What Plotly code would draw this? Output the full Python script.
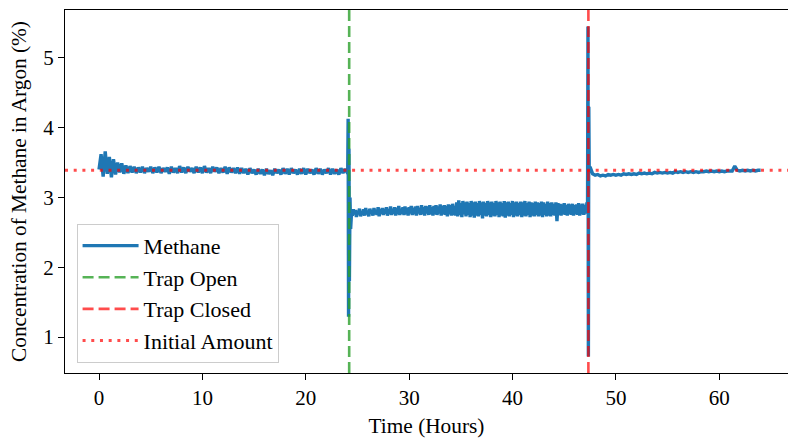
import numpy as np
import plotly.graph_objects as go

# Phase 1: before the trap is opened, sampled every 0.2 h from 0 h to 24 h
start_a, step_a = 0.0, 0.2
methane_a = [
    3.40, 3.62, 3.30, 3.66, 3.34, 3.58, 3.29, 3.55, 3.33, 3.50,
    3.36, 3.49, 3.34, 3.46, 3.35, 3.45, 3.36, 3.44, 3.35, 3.43,
    3.36, 3.44, 3.35, 3.42, 3.37, 3.44, 3.35, 3.43, 3.36, 3.44,
    3.35, 3.42, 3.37, 3.43, 3.34, 3.44, 3.36, 3.42, 3.35, 3.45,
    3.36, 3.43, 3.35, 3.44, 3.37, 3.42, 3.35, 3.44, 3.36, 3.43,
    3.35, 3.45, 3.36, 3.42, 3.35, 3.44, 3.37, 3.43, 3.35, 3.42,
    3.36, 3.44, 3.34, 3.43, 3.36, 3.42, 3.35, 3.43, 3.34, 3.42,
    3.35, 3.41, 3.33, 3.42, 3.35, 3.40, 3.33, 3.41, 3.34, 3.40,
    3.32, 3.41, 3.34, 3.39, 3.32, 3.41, 3.35, 3.40, 3.33, 3.42,
    3.34, 3.41, 3.33, 3.42, 3.35, 3.40, 3.33, 3.41, 3.34, 3.42,
    3.33, 3.41, 3.35, 3.40, 3.33, 3.42, 3.34, 3.41, 3.33, 3.40,
    3.35, 3.42, 3.33, 3.41, 3.34, 3.40, 3.33, 3.42, 3.35, 3.41,
    3.36,
]

# Transient when the trap opens
hours_open_spike = [24.06, 24.10, 24.14, 24.18, 24.22, 24.28, 24.34, 24.42]
methane_open_spike = [3.37, 4.13, 1.29, 3.70, 1.80, 3.00, 2.55, 2.76]

# Phase 2: trap open, sampled every 0.1 h from 24.5 h to 47.2 h
start_b, step_b = 24.5, 0.1
methane_b = [
    2.74, 2.83, 2.76, 2.82, 2.72, 2.81, 2.77, 2.84, 2.73, 2.80,
    2.75, 2.83, 2.74, 2.85, 2.76, 2.81, 2.73, 2.84, 2.77, 2.82,
    2.74, 2.85, 2.76, 2.82, 2.75, 2.86, 2.73, 2.83, 2.77, 2.85,
    2.75, 2.84, 2.77, 2.86, 2.74, 2.83, 2.76, 2.87, 2.75, 2.84,
    2.77, 2.86, 2.74, 2.85, 2.76, 2.88, 2.75, 2.84, 2.77, 2.86,
    2.75, 2.87, 2.76, 2.85, 2.74, 2.86, 2.77, 2.88, 2.75, 2.85,
    2.76, 2.87, 2.74, 2.88, 2.77, 2.85, 2.75, 2.89, 2.76, 2.86,
    2.74, 2.88, 2.77, 2.87, 2.75, 2.89, 2.76, 2.86, 2.74, 2.88,
    2.76, 2.89, 2.75, 2.87, 2.77, 2.90, 2.74, 2.88, 2.76, 2.89,
    2.75, 2.88, 2.73, 2.90, 2.76, 2.89, 2.74, 2.91, 2.75, 2.88,
    2.74, 2.93, 2.73, 2.96, 2.75, 2.92, 2.72, 2.95, 2.76, 2.93,
    2.73, 2.94, 2.75, 2.92, 2.72, 2.95, 2.74, 2.93, 2.71, 2.94,
    2.74, 2.92, 2.73, 2.95, 2.75, 2.93, 2.70, 2.94, 2.74, 2.92,
    2.73, 2.95, 2.75, 2.93, 2.72, 2.94, 2.74, 2.92, 2.73, 2.95,
    2.75, 2.93, 2.72, 2.94, 2.74, 2.92, 2.73, 2.95, 2.71, 2.93,
    2.74, 2.94, 2.73, 2.92, 2.75, 2.95, 2.72, 2.93, 2.74, 2.94,
    2.73, 2.92, 2.75, 2.94, 2.72, 2.93, 2.74, 2.95, 2.73, 2.92,
    2.75, 2.94, 2.72, 2.93, 2.74, 2.92, 2.73, 2.94, 2.75, 2.93,
    2.73, 2.92, 2.74, 2.94, 2.72, 2.93, 2.75, 2.91, 2.73, 2.94,
    2.74, 2.92, 2.73, 2.93, 2.75, 2.91, 2.74, 2.93, 2.66, 2.92,
    2.75, 2.91, 2.74, 2.90, 2.76, 2.92, 2.75, 2.89, 2.74, 2.91,
    2.76, 2.90, 2.75, 2.91, 2.74, 2.89, 2.76, 2.90, 2.75, 2.92,
    2.74, 2.90, 2.76, 2.91, 2.75, 2.89, 2.77, 2.93,
]

# Transient when the trap closes
hours_close_spike = [47.26, 47.30, 47.34, 47.38, 47.42]
methane_close_spike = [2.85, 5.45, 0.72, 4.30, 3.40]

# Phase 3: trap closed again, sampled every 0.25 h from 47.5 h to 64 h
start_c, step_c = 47.5, 0.25
methane_c = [
    3.44, 3.34, 3.32, 3.33, 3.31, 3.32, 3.31, 3.33, 3.32, 3.33,
    3.32, 3.33, 3.32, 3.34, 3.33, 3.34, 3.33, 3.34, 3.33, 3.35,
    3.34, 3.35, 3.34, 3.35, 3.34, 3.36, 3.35, 3.36, 3.35, 3.36,
    3.35, 3.36, 3.35, 3.37, 3.36, 3.37, 3.36, 3.37, 3.36, 3.37,
    3.36, 3.37, 3.36, 3.37, 3.37, 3.38, 3.37, 3.38, 3.37, 3.38,
    3.37, 3.38, 3.37, 3.38, 3.38, 3.38, 3.45, 3.39, 3.38, 3.39,
    3.38, 3.39, 3.38, 3.39, 3.38, 3.39, 3.39,
]

TRAP_OPEN_H = 24.2
TRAP_CLOSED_H = 47.34
INITIAL_AMOUNT = 3.39

X_RANGE = [-3.29, 66.65]
Y_RANGE = [0.484, 5.688]


def clock(start, step, values):
    return list(np.round(start + step * np.arange(len(values)), 3))


hours = (clock(start_a, step_a, methane_a) + hours_open_spike
         + clock(start_b, step_b, methane_b) + hours_close_spike
         + clock(start_c, step_c, methane_c))
methane = methane_a + methane_open_spike + methane_b + methane_close_spike + methane_c

FONT = "Liberation Serif"
BLUE = "#1f77b4"
GREEN = "rgba(44,160,44,0.8)"
RED = "rgba(255,0,0,0.7)"

fig = go.Figure()
fig.add_trace(go.Scatter(
    x=hours, y=methane, mode="lines", name="Methane",
    line=dict(color=BLUE, width=3.4, simplify=False), legendgroup="a",
))
fig.add_trace(go.Scatter(
    x=[TRAP_OPEN_H, TRAP_OPEN_H], y=Y_RANGE, mode="lines", name="Trap Open",
    line=dict(color=GREEN, width=2.6, dash="11px,5px"), legendgroup="b",
))
fig.add_trace(go.Scatter(
    x=[TRAP_CLOSED_H, TRAP_CLOSED_H], y=Y_RANGE, mode="lines", name="Trap Closed",
    line=dict(color=RED, width=2.6, dash="11px,5px"), legendgroup="c",
))
fig.add_trace(go.Scatter(
    x=X_RANGE, y=[INITIAL_AMOUNT, INITIAL_AMOUNT], mode="lines", name="Initial Amount",
    line=dict(color=RED, width=3, dash="3px,5.7px"), legendgroup="d",
))

axis_common = dict(
    showgrid=False, zeroline=False, showline=True, linecolor="black", linewidth=1.2,
    ticks="outside", ticklen=6, tickwidth=1.2, tickcolor="black",
    tickfont=dict(family=FONT, size=21, color="black"),
)

fig.update_layout(
    width=788, height=438,
    margin=dict(l=65, r=0, t=10, b=65),
    paper_bgcolor="white", plot_bgcolor="white",
    font=dict(family=FONT, size=21, color="black"),
    showlegend=True,
    legend=dict(
        x=0.016, y=0.028, xanchor="left", yanchor="bottom",
        bgcolor="rgba(255,255,255,0.8)", bordercolor="#cccccc", borderwidth=1,
        font=dict(family=FONT, size=22, color="black"),
        traceorder="grouped", tracegroupgap=0, itemwidth=56,
    ),
    xaxis=dict(
        range=X_RANGE, tickvals=[0, 10, 20, 30, 40, 50, 60], mirror=True,
        title=dict(text="Time (Hours)", standoff=10, font=dict(family=FONT, size=21.3)),
        **axis_common,
    ),
    yaxis=dict(
        range=Y_RANGE, tickvals=[1, 2, 3, 4, 5],
        title=dict(text="Concentration of Methane in Argon (%)", standoff=10,
                   font=dict(family=FONT, size=21.3)),
        **axis_common,
    ),
)

fig.write_html("out.html")
